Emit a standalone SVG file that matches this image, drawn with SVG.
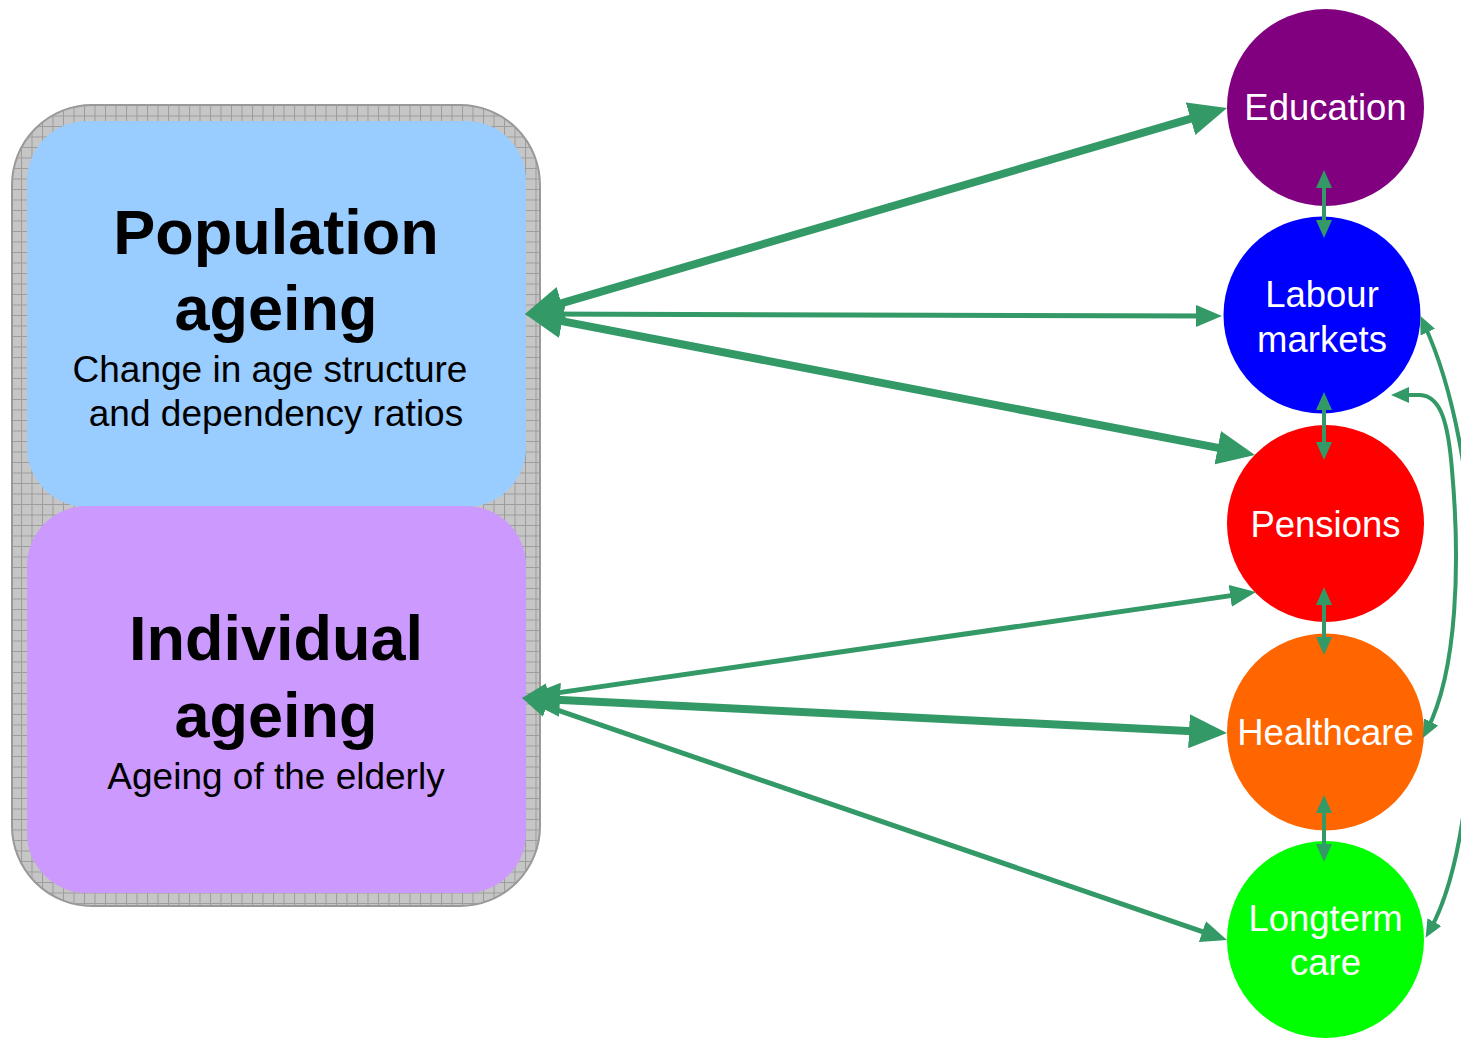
<svg xmlns="http://www.w3.org/2000/svg" width="1461" height="1039" viewBox="0 0 1461 1039">
<style>
.bigT{font-family:"Liberation Sans",Arial,sans-serif;font-weight:bold;font-size:63px;fill:#000;text-anchor:middle}
.subT{font-family:"Liberation Sans",Arial,sans-serif;font-size:37px;fill:#000;text-anchor:middle}
.cT{font-family:"Liberation Sans",Arial,sans-serif;font-size:36.5px;fill:#fff;text-anchor:middle}
.thick{stroke:#339966;stroke-width:8;fill:none;marker-start:url(#mBig);marker-end:url(#mBig)}
.med{stroke:#339966;stroke-width:5;fill:none;marker-start:url(#mMed);marker-end:url(#mMed)}
.small{stroke:#339966;stroke-width:4;fill:none;marker-start:url(#mSm);marker-end:url(#mSm)}
</style>
<defs>
<pattern id="grid" x="0" y="0" width="10.5" height="10.5" patternUnits="userSpaceOnUse">
<rect width="10.5" height="10.5" fill="#c6c6c6"/>
<path d="M0,0.5 H10.5 M0.5,0 V10.5" stroke="#9c9c9c" stroke-width="1"/>
</pattern>
<marker id="mBig" markerUnits="userSpaceOnUse" viewBox="0 0 38 34" markerWidth="38" markerHeight="34" refX="19" refY="17" orient="auto-start-reverse">
<path d="M0,0 L38,17 L0,34 z" fill="#339966"/>
</marker>
<marker id="mMed" markerUnits="userSpaceOnUse" viewBox="0 0 26 22" markerWidth="26" markerHeight="22" refX="13" refY="11" orient="auto-start-reverse">
<path d="M0,0 L26,11 L0,22 z" fill="#339966"/>
</marker>
<marker id="mSm" markerUnits="userSpaceOnUse" viewBox="0 0 18 16" markerWidth="18" markerHeight="16" refX="9" refY="8" orient="auto-start-reverse">
<path d="M0,0 L18,8 L0,16 z" fill="#339966"/>
</marker>
</defs>
<rect width="1461" height="1039" fill="#fff"/>
<g id="ageing-frame">
<rect x="12" y="105" width="528" height="801" rx="80" ry="80" fill="url(#grid)" stroke="#999" stroke-width="2"/>
</g>
<g id="population-ageing">
<rect x="27" y="121" width="499" height="386" rx="60" ry="60" fill="#99ccff"/>
<text class="bigT" x="276" y="254">Population</text>
<text class="bigT" x="276" y="330">ageing</text>
<text class="subT" x="270" y="382">Change in age structure</text>
<text class="subT" x="276" y="426">and dependency ratios</text>
</g>
<g id="individual-ageing">
<rect x="27" y="506" width="499" height="387" rx="60" ry="60" fill="#cc99ff"/>
<text class="bigT" x="276" y="660">Individual</text>
<text class="bigT" x="276" y="737">ageing</text>
<text class="subT" x="276" y="789">Ageing of the elderly</text>
</g>
<g id="education">
<circle cx="1325.5" cy="107.5" r="98.5" fill="#800080"/>
<text class="cT" x="1325.5" y="120">Education</text>
</g>
<g id="labour-markets">
<circle cx="1322" cy="315" r="98.5" fill="#0000ff"/>
<text class="cT" x="1322" y="307">Labour</text>
<text class="cT" x="1322" y="352">markets</text>
</g>
<g id="pensions">
<circle cx="1325.5" cy="523.5" r="98.5" fill="#ff0000"/>
<text class="cT" x="1325.5" y="537">Pensions</text>
</g>
<g id="healthcare">
<circle cx="1325.5" cy="732" r="98.5" fill="#ff6600"/>
<text class="cT" x="1325.5" y="745">Healthcare</text>
</g>
<g id="longterm-care">
<circle cx="1325.5" cy="939.5" r="98.5" fill="#00ff00"/>
<text class="cT" x="1325.5" y="931">Longterm</text>
<text class="cT" x="1325.5" y="975">care</text>
</g>
<g id="connectors">
<line class="thick" x1="543.2" y1="308.65" x2="1208.8" y2="113.35"/>
<line class="med" x1="538" y1="314" x2="1209" y2="316"/>
<line class="thick" x1="543.65" y1="317.6" x2="1236.35" y2="451.4"/>
<line class="med" x1="534.9" y1="696.1" x2="1243.1" y2="593.9"/>
<line class="thick" x1="541" y1="698.9" x2="1208" y2="732.1"/>
<line class="med" x1="534.3" y1="702.2" x2="1214.7" y2="935.8"/>
<line class="small" x1="1324" y1="179" x2="1324" y2="229"/>
<line class="small" x1="1324" y1="401" x2="1324" y2="451"/>
<line class="small" x1="1324" y1="596" x2="1324" y2="646"/>
<line class="small" x1="1324" y1="804" x2="1324" y2="853"/>
<path class="small" d="M1400,395 L1420,395 C1440,396 1448,420 1452,470 C1460,560 1458,670 1427,730"/>
<path class="small" d="M1424,324 C1450,380 1475,480 1475,620 C1475,780 1458,880 1430,930"/>
</g>
</svg>
